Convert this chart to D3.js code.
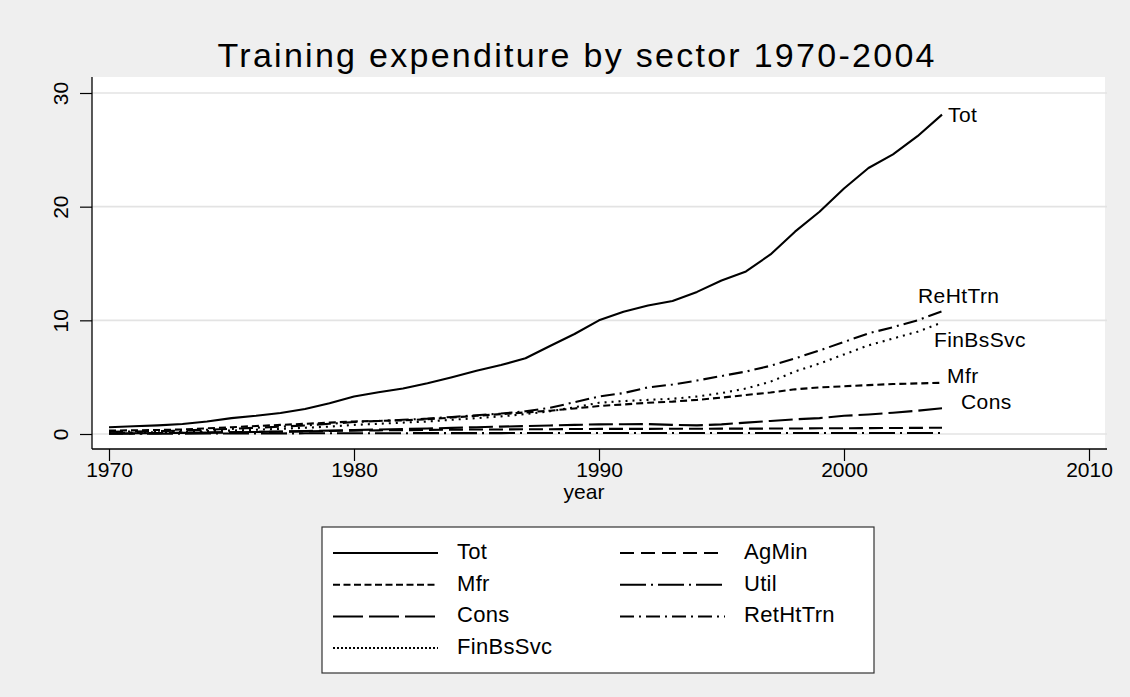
<!DOCTYPE html>
<html><head><meta charset="utf-8">
<script src="https://cdn.jsdelivr.net/npm/d3@7/dist/d3.min.js"></script>
<style>
body{margin:0;background:#efefef;}
svg{display:block;font-family:"Liberation Sans",Arial,sans-serif;}
</style></head>
<body><svg id="c" width="1130" height="697"></svg>
<script>
const years = d3.range(1970, 2005);
const seriesNames = ["Tot","AgMin","Mfr","Util","Cons","RetHtTrn","FinBsSvc"];
const Tot = [0.6,0.68,0.76,0.88,1.1,1.4,1.6,1.85,2.2,2.7,3.3,3.67,4.0,4.46,5.0,5.57,6.07,6.66,7.74,8.8,10.0,10.76,11.3,11.7,12.5,13.5,14.3,15.8,17.8,19.55,21.6,23.4,24.6,26.2,28.1];
const AgMin = [0.05,0.06,0.08,0.1,0.12,0.15,0.18,0.2,0.23,0.26,0.3,0.32,0.34,0.36,0.38,0.4,0.4,0.42,0.42,0.44,0.45,0.45,0.45,0.46,0.46,0.47,0.47,0.48,0.48,0.5,0.5,0.52,0.53,0.54,0.55];
const Mfr = [0.3,0.32,0.35,0.4,0.5,0.6,0.7,0.8,0.9,1.0,1.1,1.15,1.2,1.3,1.45,1.6,1.75,1.9,2.05,2.25,2.46,2.6,2.75,2.85,3.0,3.2,3.43,3.65,3.93,4.1,4.2,4.3,4.4,4.45,4.5];
const Util = [0.02,0.02,0.03,0.03,0.04,0.04,0.05,0.05,0.06,0.06,0.07,0.07,0.07,0.08,0.08,0.08,0.08,0.09,0.09,0.09,0.09,0.09,0.09,0.09,0.09,0.09,0.09,0.09,0.09,0.09,0.09,0.09,0.09,0.09,0.09];
const Cons = [0.05,0.06,0.08,0.1,0.12,0.15,0.18,0.22,0.26,0.3,0.35,0.4,0.44,0.48,0.54,0.6,0.65,0.7,0.75,0.8,0.85,0.86,0.87,0.8,0.76,0.85,1.0,1.15,1.29,1.4,1.6,1.72,1.87,2.05,2.26];
const RetHtTrn = [0.2,0.22,0.25,0.3,0.38,0.45,0.55,0.65,0.75,0.9,1.05,1.15,1.25,1.35,1.5,1.65,1.8,2.0,2.3,2.8,3.3,3.6,4.1,4.35,4.7,5.1,5.5,6.0,6.65,7.35,8.1,8.85,9.4,10.0,10.8];
const FinBsSvc = [0.1,0.12,0.15,0.2,0.25,0.3,0.38,0.45,0.55,0.65,0.8,0.9,1.0,1.1,1.25,1.4,1.55,1.75,2.0,2.35,2.75,2.9,3.0,3.1,3.3,3.6,4.0,4.6,5.5,6.2,7.0,7.8,8.4,9.0,9.8];
const yTicks = [0,10,20,30];
const xTicks = [1970,1980,1990,2000,2010];
const endLabels = ["Tot","ReHtTrn","FinBsSvc","Mfr","Cons"];
const endLabelSeries = ["Tot","RetHtTrn","FinBsSvc","Mfr","Cons"];

const values = {Tot,AgMin,Mfr,Util,Cons,RetHtTrn,FinBsSvc};
const dashes = {Tot:null, AgMin:"14,6", Mfr:"7,4", Util:"26,5,2,5", Cons:"24,6", RetHtTrn:"14,5,2,5", FinBsSvc:"2,5"};
const legendDashes = {Tot:null, AgMin:"14,7", Mfr:"7,3.5", Util:"26,5,2,5", Cons:"30,6", RetHtTrn:"14,5,2,5", FinBsSvc:"2,2"};
const labelOffsets = {Tot:[6,2],ReHtTrn:[-24,-14],FinBsSvc:[-8,19],Mfr:[5,-5],Cons:[19,-5]};

const svg = d3.select("#c");
svg.append("rect").attr("width",1130).attr("height",697).attr("fill","#efefef");
const L=92,R=1107,T=77,B=449;
svg.append("rect").attr("x",L).attr("y",T).attr("width",R-L-2).attr("height",B-T).attr("fill","#fff");

const x = d3.scaleLinear().domain([1970,2010]).range([109,1089]);
const y = d3.scaleLinear().domain([0,30]).range([434,93]);

svg.append("g").selectAll("line").data(yTicks).join("line")
  .attr("x1",L).attr("x2",R).attr("y1",d=>y(d)).attr("y2",d=>y(d))
  .attr("stroke","#e3e3e3").attr("stroke-width",1.6);

const ya = svg.append("g").attr("transform",`translate(${L},0)`)
  .call(d3.axisLeft(y).tickValues(yTicks).tickSize(12).tickFormat(d3.format("d")));
ya.select(".domain").remove();
ya.selectAll(".tick line").attr("stroke","#000").attr("stroke-width",1.2);
ya.selectAll(".tick text").attr("x",0).attr("dy",0).attr("text-anchor","middle")
  .attr("transform","translate(-24,0) rotate(-90)").attr("font-size",21).attr("fill","#000")
  .style("font-family","Liberation Sans, Arial, sans-serif");
svg.append("line").attr("x1",L).attr("x2",L).attr("y1",T).attr("y2",B).attr("stroke","#000").attr("stroke-width",1.3);

const xa = svg.append("g").attr("transform",`translate(0,${B})`)
  .call(d3.axisBottom(x).tickValues(xTicks).tickSize(12).tickFormat(d3.format("d")));
xa.select(".domain").remove();
xa.selectAll(".tick line").attr("stroke","#000").attr("stroke-width",1.2);
xa.selectAll(".tick text").attr("y",13).attr("font-size",21).attr("fill","#000")
  .style("font-family","Liberation Sans, Arial, sans-serif");
svg.append("line").attr("x1",L).attr("x2",R).attr("y1",B).attr("y2",B).attr("stroke","#000").attr("stroke-width",1.3);

svg.append("text").attr("x",(x(1970)+x(2010))/2 - 15).attr("y",499).attr("text-anchor","middle")
  .attr("font-size",21).text("year");

svg.append("text").attr("x",576).attr("y",67).attr("text-anchor","middle")
  .attr("font-size",34).attr("textLength",717).attr("lengthAdjust","spacing")
  .text("Training expenditure by sector 1970-2004");

const line = d3.line().x((d,i)=>x(years[i])).y(d=>y(d));
const lg = svg.append("g");
seriesNames.forEach(n=>{
  lg.append("path").datum(values[n]).attr("d",line).attr("fill","none")
    .attr("stroke","#000").attr("stroke-width",2.1).attr("stroke-linejoin","round")
    .attr("stroke-dasharray",dashes[n]);
});

endLabels.forEach((lab,i)=>{
  const s = endLabelSeries[i]; const v = values[s];
  const o = labelOffsets[lab];
  svg.append("text").attr("x",x(years[years.length-1])+o[0]).attr("y",y(v[v.length-1])+o[1])
    .attr("dominant-baseline","middle").attr("font-size",21).attr("letter-spacing",0.4).text(lab);
});

svg.append("rect").attr("x",322).attr("y",527).attr("width",552).attr("height",146)
  .attr("fill","#fff").attr("stroke","#333").attr("stroke-width",1.2);
seriesNames.forEach((n,i)=>{
  const col=i%2,row=Math.floor(i/2);
  const lx = col? 620:333, ly = 553+row*31.7;
  svg.append("line").attr("x1",lx).attr("x2",lx+105).attr("y1",ly).attr("y2",ly)
    .attr("stroke","#000").attr("stroke-width",2).attr("stroke-dasharray",legendDashes[n]);
  svg.append("text").attr("x",lx+124).attr("y",ly).attr("dominant-baseline","middle")
    .attr("font-size",22).attr("letter-spacing",0.3).text(n);
});
</script></body></html>
